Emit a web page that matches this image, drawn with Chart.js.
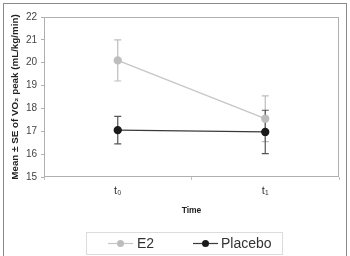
<!DOCTYPE html>
<html><head><meta charset="utf-8">
<script src="https://cdn.jsdelivr.net/npm/chart.js@4/dist/chart.umd.min.js"></script>
<style>html,body{margin:0;padding:0;background:#fff;}#wrap{width:350px;height:256px;position:relative;}</style>
</head><body><div id="wrap"><canvas id="c" width="350" height="256"></canvas></div>
<script>
const categories = ['t\u2080', 't\u2081'];
const seriesNames = ['E2', 'Placebo'];
const e2Mean = [20.1, 17.55];
const e2SE = [0.9, 1.0];
const placeboMean = [17.05, 16.97];
const placeboSE = [0.6, 0.95];
const yTicks = [15, 16, 17, 18, 19, 20, 21, 22];

const errSets = [e2SE, placeboSE];
const barColors = ['#bdbdbd', '#555555'];
const FONT = '"Liberation Sans", Arial, sans-serif';

const framePlugin = {
  id: 'frame',
  beforeDraw(chart) {
    const ctx = chart.ctx;
    ctx.save();
    ctx.fillStyle = '#fff';
    ctx.fillRect(0, 0, chart.width, chart.height);
    ctx.strokeStyle = '#8a8a8a';
    ctx.lineWidth = 1;
    ctx.strokeRect(3.5, 3.5, 343, 262);
    ctx.restore();
  },
  beforeDatasetsDraw(chart) {
    const ctx = chart.ctx;
    const a = chart.chartArea;
    ctx.save();
    ctx.strokeStyle = '#b0b0b0';
    ctx.lineWidth = 1;
    ctx.strokeRect(Math.round(a.left) + 0.5, Math.round(a.top) + 0.5, Math.round(a.right - a.left) - 1, Math.round(a.bottom - a.top) - 1);
    const ys = chart.scales.y, xs = chart.scales.x;
    chart.data.datasets.forEach((ds, i) => {
      const se = errSets[i];
      ctx.strokeStyle = barColors[i];
      ctx.lineWidth = 1.2;
      ds.data.forEach((v, j) => {
        const x = xs.getPixelForValue(j);
        const y1 = ys.getPixelForValue(v + se[j]);
        const y2 = ys.getPixelForValue(v - se[j]);
        ctx.beginPath();
        ctx.moveTo(x, y1); ctx.lineTo(x, y2);
        ctx.moveTo(x - 3.5, y1); ctx.lineTo(x + 3.5, y1);
        ctx.moveTo(x - 3.5, y2); ctx.lineTo(x + 3.5, y2);
        ctx.stroke();
      });
    });
    ctx.restore();
  },
  afterDraw(chart) {
    const ctx = chart.ctx;
    ctx.save();
    ctx.strokeStyle = '#dcdcdc';
    ctx.lineWidth = 1;
    ctx.strokeRect(86.5, 232.5, 196, 22);
    const items = [{x: 108, tx: 137}, {x: 193, tx: 221}];
    chart.data.datasets.forEach((ds, i) => {
      const it = items[i];
      const cy = 243.5;
      ctx.strokeStyle = ds.borderColor;
      ctx.lineWidth = 1.2;
      ctx.beginPath(); ctx.moveTo(it.x, cy); ctx.lineTo(it.x + 25, cy); ctx.stroke();
      ctx.fillStyle = ds.pointBackgroundColor;
      ctx.beginPath(); ctx.arc(it.x + 12.5, cy, 3.5, 0, Math.PI * 2); ctx.fill();
      ctx.fillStyle = '#333';
      ctx.font = '14px ' + FONT;
      ctx.textBaseline = 'middle';
      ctx.fillText(ds.label, it.tx, cy + 0.5);
    });
    ctx.restore();
  }
};

new Chart(document.getElementById('c'), {
  type: 'line',
  data: {
    labels: categories,
    datasets: [
      { label: seriesNames[0], data: e2Mean, borderColor: '#c6c6c6', backgroundColor: '#bdbdbd',
        pointBackgroundColor: '#bdbdbd', pointBorderColor: '#bdbdbd', pointRadius: 3.5, borderWidth: 1.3, tension: 0 },
      { label: seriesNames[1], data: placeboMean, borderColor: '#3a3a3a', backgroundColor: '#1a1a1a',
        pointBackgroundColor: '#1a1a1a', pointBorderColor: '#1a1a1a', pointRadius: 3.5, borderWidth: 1.3, tension: 0 }
    ]
  },
  options: {
    responsive: false,
    animation: false,
    devicePixelRatio: 1,
    layout: { padding: { left: 9, right: 11, top: 17, bottom: 28 } },
    plugins: { legend: { display: false }, tooltip: { enabled: false } },
    scales: {
      x: {
        offset: true,
        grid: { display: true, offset: true, drawOnChartArea: false, drawTicks: true, tickLength: 3, color: '#c0c0c0' },
        border: { display: false },
        ticks: { color: '#333', padding: 4, font: { family: FONT, size: 11 } },
        title: { display: true, text: 'Time', color: '#222', padding: { top: 4, bottom: 12 },
          font: { family: FONT, size: 8.5, weight: 'bold' } },
        afterFit(s) { s.height = 51; }
      },
      y: {
        min: 15, max: 22,
        afterBuildTicks(s) { s.ticks = yTicks.map(v => ({ value: v })); },
        grid: { display: true, drawOnChartArea: false, drawTicks: true, tickLength: 3, color: '#b0b0b0' },
        border: { display: false },
        ticks: { color: '#444', padding: 4, font: { family: FONT, size: 10 } },
        title: { display: true, text: 'Mean \u00b1 SE of VO\u2082 peak (mL/kg/min)', color: '#222', padding: { top: 0, bottom: 0 },
          font: { family: FONT, size: 9.8, weight: 'bold' } },
        afterFit(s) { s.width = 35; }
      }
    }
  },
  plugins: [framePlugin]
});
</script></body></html>
